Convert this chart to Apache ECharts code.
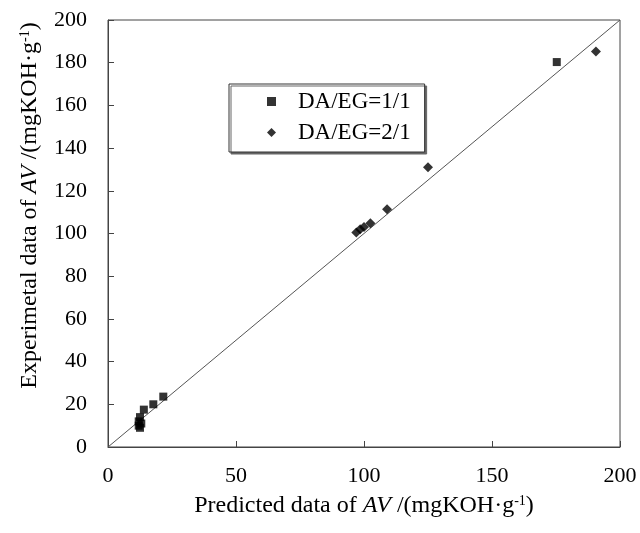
<!DOCTYPE html>
<html>
<head>
<meta charset="utf-8">
<script src="https://cdn.jsdelivr.net/npm/echarts@6/dist/echarts.min.js"></script>
<style>html,body{margin:0;padding:0;background:#fff}#c{width:640px;height:533px}</style>
</head>
<body>
<div id="c"></div>
<script>
// Data
var seriesNames = ['DA/EG=1/1', 'DA/EG=2/1'];
var squares11 = [[12,10],[12,12],[12.5,14],[13,11],[12.5,9],[14,17.5],[17.7,20],[21.6,23.6],[175.3,180.3]];
var diamonds21 = [[97,100.5],[98.5,102],[100,103],[102.5,104.8],[109,111.3],[125,131],[190.6,185.2]];
var diagonal = [[0,0],[200,200]];
var xTicks = [0,50,100,150,200];
var yTicks = [0,20,40,60,80,100,120,140,160,180,200];

var FONT = '"Liberation Serif","Times New Roman",serif';
var richName = {
  t:{fontFamily:FONT,fontSize:24,color:'#000'},
  i:{fontFamily:FONT,fontSize:24,fontStyle:'italic',color:'#000'},
  s:{fontFamily:FONT,fontSize:14,color:'#000',verticalAlign:'top'}
};
var chart = echarts.init(document.getElementById('c'), null, {renderer:'canvas'});
chart.setOption({
  backgroundColor:'#fff',
  animation:false,
  textStyle:{fontFamily:FONT, color:'#000'},
  grid:{left:108, right:20, top:20, bottom:86, show:true, borderColor:'#444', borderWidth:1, backgroundColor:'transparent'},
  legend:{
    orient:'vertical', left:229, top:84,
    data:[{name:seriesNames[0], icon:'rect'},{name:seriesNames[1], icon:'diamond'}],
    itemWidth:9, itemHeight:9, itemGap:8,
    padding:[6,14,8,38],
    backgroundColor:'#fff', borderColor:'#333', borderWidth:1,
    shadowColor:'#666', shadowOffsetX:2, shadowOffsetY:2, shadowBlur:0,
    textStyle:{fontFamily:FONT, fontSize:23, color:'#000', padding:[0,0,0,17]}
  },
  xAxis:{
    type:'value', min:xTicks[0], max:xTicks[xTicks.length-1], interval:50,
    axisLine:{show:true, onZero:false, lineStyle:{color:'#444', width:1}},
    axisTick:{show:true, inside:true, length:6, lineStyle:{color:'#444'}},
    splitLine:{show:false},
    axisLabel:{fontFamily:FONT, fontSize:22, color:'#000', margin:18},
    name:'{t|Predicted data of }{i|AV}{t| /(mgKOH·g}{s|-1}{t|)}',
    nameLocation:'middle', nameGap:47,
    nameTextStyle:{fontFamily:FONT, fontSize:24, color:'#000', rich:richName}
  },
  yAxis:{
    type:'value', min:yTicks[0], max:yTicks[yTicks.length-1], interval:20,
    axisLine:{show:true, onZero:false, lineStyle:{color:'#444', width:1}},
    axisTick:{show:true, inside:true, length:6, lineStyle:{color:'#444'}},
    splitLine:{show:false},
    axisLabel:{fontFamily:FONT, fontSize:22, color:'#000', margin:21},
    name:'{t|Experimetal data of }{i|AV}{t| /(mgKOH·g}{s|-1}{t|)}',
    nameLocation:'middle', nameGap:66, nameRotate:90,
    nameTextStyle:{fontFamily:FONT, fontSize:24, color:'#000', padding:[0,0,0,56], rich:richName}
  },
  series:[
    {type:'line', data:diagonal, showSymbol:false, symbol:'none', silent:true,
     lineStyle:{color:'#555', width:1}, z:1},
    {name:seriesNames[0], type:'scatter', data:squares11, symbol:'rect', symbolSize:8,
     itemStyle:{color:'#000'}, z:3},
    {name:seriesNames[1], type:'scatter', data:diamonds21, symbol:'diamond', symbolSize:10,
     itemStyle:{color:'#000'}, z:3}
  ]
});
</script>
</body>
</html>
